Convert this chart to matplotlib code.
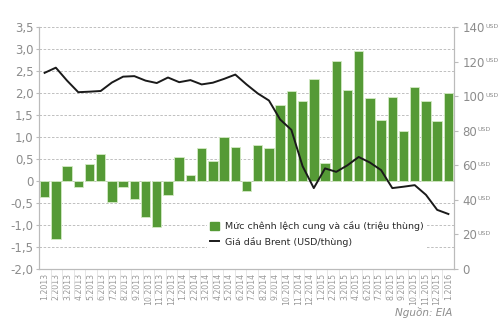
import numpy as np
import matplotlib
matplotlib.use("Agg")
import matplotlib.pyplot as plt
from matplotlib.patches import Patch
from matplotlib.lines import Line2D

plt.rcParams["font.family"] = ["Liberation Sans Narrow", "DejaVu Sans"]

months = ["{}.{}".format(m, y) for y in (2013, 2014, 2015) for m in range(1, 13)] + ["1.2016"]

# chenh lech cung - cau (trieu thung)
gap = [-0.36, -1.33, 0.34, -0.13, 0.39, 0.61, -0.47, -0.14, -0.40, -0.83, -1.05, -0.32,
       0.55, 0.14, 0.76, 0.45, 0.99, 0.77, -0.22, 0.81, 0.75, 1.72, 2.05, 1.81,
       2.31, 0.40, 2.72, 2.08, 2.95, 1.88, 1.39, 1.91, 1.14, 2.13, 1.81, 1.36,
       2.01]

# gia dau Brent (USD/thung)
brent = [113.5, 116.5, 109.0, 102.3, 102.6, 103.0, 107.9, 111.3, 111.6, 109.0, 107.6, 110.8,
         108.1, 109.3, 106.8, 107.8, 110.0, 112.5, 106.8, 101.6, 97.5, 86.5, 80.5, 59.5,
         46.8, 58.2, 56.2, 60.0, 64.8, 61.6, 57.2, 46.8, 47.6, 48.5, 42.9, 34.2,
         31.8]

# the printed axis skips 5.2015
xlabels = [m for m in months if m != "5.2015"]

left_ticks = np.arange(-2.0, 3.51, 0.5)
right_ticks = np.arange(0, 141, 20)

green = "#559a36"
grey = "#8c8c8c"

fig = plt.figure(figsize=(5.0, 3.3), dpi=100)
ax = fig.add_axes([0.078, 0.185, 0.83, 0.733])
ax2 = ax.twinx()

x = np.arange(len(months))
ax.bar(x, gap, width=0.84, color=green, edgecolor="#d4ebc4", linewidth=0.6, zorder=2)
ax2.plot(x, brent, color="#1a1a1a", linewidth=1.4, zorder=3)

ax.set_xlim(-0.5, len(months) - 0.5)
ax.set_ylim(-2.0, 3.5)
ax2.set_ylim(0, 140)

ax.set_yticks(left_ticks)
ax.set_yticklabels(["0" if abs(v) < 1e-9 else "{:.1f}".format(v).replace(".", ",") for v in left_ticks])
ax2.set_yticks(right_ticks)
ax2.set_yticklabels([str(v) for v in right_ticks])

ax.grid(axis="y", color="#b5b5b5", linestyle=(0, (3, 2)), linewidth=0.6, zorder=0)
ax.set_axisbelow(True)

# x labels spread evenly in cells, with thin separators
edges = np.linspace(-0.5, len(months) - 0.5, len(xlabels) + 1)
centers = (edges[:-1] + edges[1:]) / 2
ax.set_xticks(centers)
ax.set_xticklabels(xlabels, rotation=90, fontsize=5.6, color="#999999")
ax.set_xticks(edges[1:-1], minor=True)
ax.tick_params(axis="x", which="major", length=0, pad=3)
ax.tick_params(axis="x", which="minor", length=21, color="#e2e2e2", width=0.6)

ax.tick_params(axis="y", length=2, color="#bbbbbb", labelsize=8.5, labelcolor=grey, pad=2)
ax2.tick_params(axis="y", length=3, color="#bbbbbb", labelsize=8.5, labelcolor=grey, pad=3)

for a in (ax, ax2):
    a.spines["top"].set_visible(False)
    for s in ("left", "right", "bottom"):
        a.spines[s].set_color("#bbbbbb")
        a.spines[s].set_linewidth(0.8)

handles = [Patch(facecolor=green, edgecolor=green),
           Line2D([0], [0], color="#1a1a1a", linewidth=1.4)]
leg = ax2.legend(handles, ["Mức chênh lệch cung và cầu (triệu thùng)", "Giá dầu Brent (USD/thùng)"],
                 loc="lower right", bbox_to_anchor=(0.945, 0.06), frameon=True, fontsize=6.8,
                 handlelength=1.0, handleheight=1.0, handletextpad=0.6, labelspacing=0.6,
                 borderpad=0.3, markerfirst=True)
leg.get_frame().set_facecolor("white")
leg.get_frame().set_edgecolor("none")
leg.get_frame().set_alpha(1)
for t in leg.get_texts():
    t.set_color("#2a2a2a")
leg._legend_box.align = "right"

fig.text(0.904, 0.035, "Nguồn: EIA", fontsize=7.5, color=grey, style="italic", ha="right", va="bottom")

# small superscript "USD" right after each right-hand tick label
fig.canvas.draw()
renderer = fig.canvas.get_renderer()
inv = fig.transFigure.inverted()
for lab in ax2.get_yticklabels():
    if lab.get_text() in ("", "0"):
        continue
    bb = lab.get_window_extent(renderer)
    fx, fy = inv.transform((bb.x1 + 0.5, bb.y1 - 1.5))
    fig.text(fx, fy, "USD", fontsize=4.5, color=grey, ha="left", va="top")

fig.savefig("out.png", dpi=100)
